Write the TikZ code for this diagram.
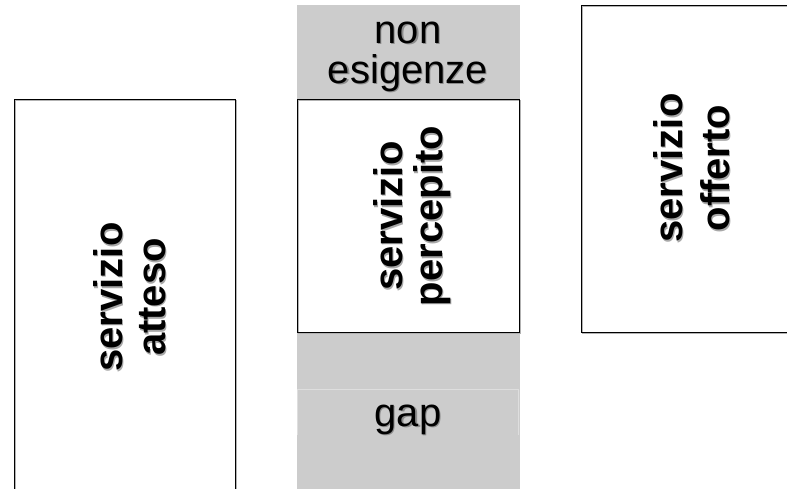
\documentclass[tikz,border=0pt]{standalone}
\usepackage{fontspec}
\setmainfont{Liberation Sans}
\usetikzlibrary{calc}

\definecolor{bandgray}{HTML}{CCCCCC}
\definecolor{faintline}{HTML}{DEDEDE}
\definecolor{shadowgray}{HTML}{A8A8A8}

\tikzset{
  outline/.style={draw=black, line width=1.4pt},
  outlineshadow/.style={draw=black!30, line width=1.4pt},
  band/.style={fill=bandgray, draw=none},
  caption/.style={font=\fontsize{40}{#1}\selectfont\bfseries, rotate=90,
                  align=center, anchor=base, inner sep=0pt},
  plain/.style={font=\fontsize{40}{40}\selectfont, align=center,
                anchor=base, inner sep=0pt},
  shade/.style={text=shadowgray},
}

\begin{document}
\begin{tikzpicture}[x=1pt,y=-1pt]
  \useasboundingbox (0,0) rectangle (787,489);

  % grey column behind the middle panel
  \node[band, minimum width=222.5, minimum height=484, anchor=north west]
    (column) at (297,5) {};

  % panels (left and right ones run past the page edge)
  \node[fill=white, minimum width=221.2, minimum height=420, anchor=north west,
        inner sep=0pt, outer sep=0pt] (attesoBox) at (14.5,99.3) {};
  \node[fill=white, minimum width=222, minimum height=233.2, anchor=north west,
        inner sep=0pt, outer sep=0pt] (percBox) at (297.3,99.5) {};
  \node[fill=white, minimum width=240, minimum height=327, anchor=north west,
        inner sep=0pt, outer sep=0pt] (offBox) at (581.3,5.3) {};

  \foreach \b in {attesoBox,percBox,offBox}{
    \draw[outlineshadow] ($(\b.north west)+(1,1)$) rectangle ($(\b.south east)+(1,1)$);
    \draw[outline] (\b.north west) rectangle (\b.south east);
  }

  % faint frame round the gap label
  \node[minimum width=221, minimum height=46, anchor=north west,
        inner sep=0pt, outer sep=0pt] (gapFrame) at (297.5,389) {};
  \draw[faintline, line width=0.8pt]
    (gapFrame.south west) -- (gapFrame.north west)
    -- (gapFrame.north east) -- (gapFrame.south east);

  % rotated captions (anchored on the baseline of their last line),
  % each with a soft drop shadow
  \coordinate (pA) at (165,297);
  \coordinate (pP) at (442,216);
  \coordinate (pO) at (729,168);
  \node[caption=43, shade] (attesoShadow) at ($(pA)+(1.8,1.8)$) {servizio\\atteso};
  \node[caption=43] (attesoText) at (pA) {servizio\\atteso};
  \node[caption=40, shade] (percShadow) at ($(pP)+(1.8,1.8)$) {servizio\\percepito};
  \node[caption=40] (percText) at (pP) {servizio\\percepito};
  \node[caption=47, shade] (offShadow) at ($(pO)+(1.8,1.8)$) {servizio\\offerto};
  \node[caption=47] (offText) at (pO) {servizio\\offerto};

  % labels on the grey column
  \coordinate (pN) at (408,83.3);
  \coordinate (pG) at (408,426.7);
  \node[plain, text=black!45] (nonShadow) at ($(pN)+(1.2,1.2)$) {non\\esigenze};
  \node[plain] (nonText) at (pN) {non\\esigenze};
  \node[plain, text=black!45] (gapShadow) at ($(pG)+(1.2,1.2)$) {gap};
  \node[plain] (gapText) at (pG) {gap};
\end{tikzpicture}
\end{document}
